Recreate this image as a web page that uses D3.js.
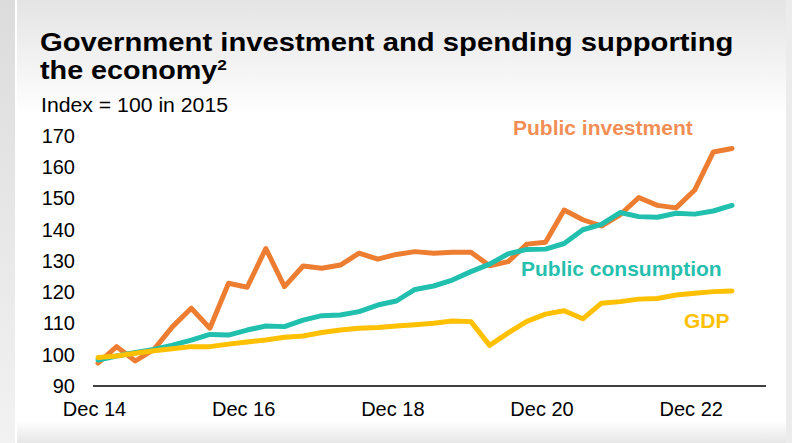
<!DOCTYPE html>
<html>
<head>
<meta charset="utf-8">
<script src="https://cdn.jsdelivr.net/npm/d3@7"></script>
<style>
  html, body { margin: 0; padding: 0; background: #ffffff; }
  svg { display: block; font-family: "Liberation Sans", Arial, sans-serif; }
</style>
</head>
<body>
<svg id="chart" width="792" height="443"></svg>
<script>
// ---- data (quarterly, Dec 2014 .. Jun 2023) ----
const quarters = d3.range(35); // 0 = Dec 14
const tickIndex = [0, 8, 16, 24, 32];
const tickLabels = ["Dec 14", "Dec 16", "Dec 18", "Dec 20", "Dec 22"];
const yTicks = [90, 100, 110, 120, 130, 140, 150, 160, 170];

const publicInvestment = [97.3, 102.6, 98.0, 101.7, 109.0, 114.9, 108.5, 122.9, 121.6, 134.0,
  121.8, 128.4, 127.7, 128.7, 132.5, 130.6, 132.1, 133.0, 132.5, 132.8,
  132.8, 128.5, 129.8, 135.4, 136.0, 146.3, 143.2, 141.2, 144.8, 150.3,
  147.8, 147.0, 152.7, 164.9, 166.0];
const publicConsumption = [98.3, 99.6, 100.7, 101.7, 103.1, 104.7, 106.5, 106.3, 107.9, 109.2,
  109.0, 111.1, 112.5, 112.7, 113.8, 115.9, 117.2, 120.9, 122.0, 123.9,
  126.6, 129.0, 132.3, 133.7, 133.8, 135.6, 140.0, 141.7, 145.5, 144.2,
  144.0, 145.3, 145.0, 146.0, 147.8];
const gdp = [99.1, 99.6, 100.5, 101.3, 101.9, 102.6, 102.6, 103.4, 104.1, 104.7,
  105.6, 106.0, 107.1, 107.9, 108.5, 108.7, 109.2, 109.6, 110.1, 110.8,
  110.6, 103.0, 107.0, 110.7, 113.0, 114.1, 111.5, 116.5, 117.0, 117.8,
  118.0, 119.1, 119.7, 120.2, 120.4];

const seriesNames = ["Public investment", "Public consumption", "GDP"];
const seriesValues = [publicInvestment, publicConsumption, gdp];
const lineColors = ["#ED7D31", "#20BFAE", "#FFC000"];
const labelColors = ["#F28E55", "#26BFAE", "#FFC000"];

const svg = d3.select("#chart");

// ---- background ----
const defs = svg.append("defs");
const bg = defs.append("linearGradient").attr("id", "bg").attr("x1", 0).attr("y1", 0).attr("x2", 0).attr("y2", 1);
bg.append("stop").attr("offset", "0").attr("stop-color", "#e4e4e4");
bg.append("stop").attr("offset", "0.26").attr("stop-color", "#ffffff");
bg.append("stop").attr("offset", "0.95").attr("stop-color", "#ffffff");
bg.append("stop").attr("offset", "1").attr("stop-color", "#e6e6e6");
const side = defs.append("linearGradient").attr("id", "side").attr("x1", 0).attr("y1", 0).attr("x2", 0).attr("y2", 1);
side.append("stop").attr("offset", "0").attr("stop-color", "#dcdcdc");
side.append("stop").attr("offset", "1").attr("stop-color", "#f2f2f2");

svg.append("rect").attr("width", 792).attr("height", 443).attr("fill", "url(#bg)");
svg.append("rect").attr("x", 0).attr("y", 0).attr("width", 15).attr("height", 443).attr("fill", "url(#side)");
svg.append("rect").attr("x", 15).attr("y", 0).attr("width", 2).attr("height", 443).attr("fill", "#ffffff");
svg.append("rect").attr("x", 786).attr("y", 0).attr("width", 6).attr("height", 443).attr("fill", "#ececec");

// ---- titles ----
const title = svg.append("g").attr("font-weight", "bold").attr("fill", "#000").attr("font-size", 25);
title.append("text").attr("transform", "translate(40,51) scale(1.17,1)")
  .text("Government investment and spending supporting");
const t2 = title.append("text").attr("transform", "translate(40,79) scale(1.15,1)");
t2.append("tspan").text("the economy");
t2.append("tspan").attr("font-size", 15).attr("dy", -9).text("2");

svg.append("text").attr("x", 41).attr("y", 112).attr("font-size", 19.5)
  .attr("textLength", 187).attr("lengthAdjust", "spacingAndGlyphs")
  .text("Index = 100 in 2015");

// ---- scales ----
const x = d3.scaleLinear().domain([0, 34]).range([98, 732]);
const y = d3.scaleLinear().domain([90, 170]).range([386, 136]);

// y axis (labels only)
const yAxis = svg.append("g").attr("transform", "translate(75,0)")
  .call(d3.axisLeft(y).tickValues(yTicks).tickSize(0).tickPadding(0));
yAxis.select(".domain").remove();
yAxis.selectAll("text").attr("font-size", 20).attr("fill", "#000")
  .attr("font-family", "Liberation Sans, Arial, sans-serif");

// x axis
const xAxis = svg.append("g").attr("transform", "translate(0,386)")
  .call(d3.axisBottom(x).tickValues(tickIndex).tickFormat((d, i) => tickLabels[i]).tickSize(0).tickPadding(16));
xAxis.select(".domain").remove();
xAxis.selectAll("text").attr("font-size", 20).attr("fill", "#000").attr("dx", -4)
  .attr("font-family", "Liberation Sans, Arial, sans-serif");
svg.append("line").attr("x1", 93).attr("x2", 766).attr("y1", 386).attr("y2", 386)
  .attr("stroke", "#000").attr("stroke-width", 1.6);

// ---- lines ----
const line = d3.line().x((d, i) => x(quarters[i])).y(d => y(d));
[0, 1, 2].forEach(k => {
  svg.append("path").datum(seriesValues[k])
    .attr("d", line).attr("fill", "none")
    .attr("stroke", lineColors[k]).attr("stroke-width", 5)
    .attr("stroke-linejoin", "round").attr("stroke-linecap", "round");
});

// ---- series labels ----
const labelPos = [[513, 135], [521, 276], [684, 328]];
seriesNames.forEach((name, k) => {
  svg.append("text").attr("x", labelPos[k][0]).attr("y", labelPos[k][1])
    .attr("font-size", 21).attr("font-weight", "bold").attr("fill", labelColors[k])
    .text(name);
});
</script>
</body>
</html>
